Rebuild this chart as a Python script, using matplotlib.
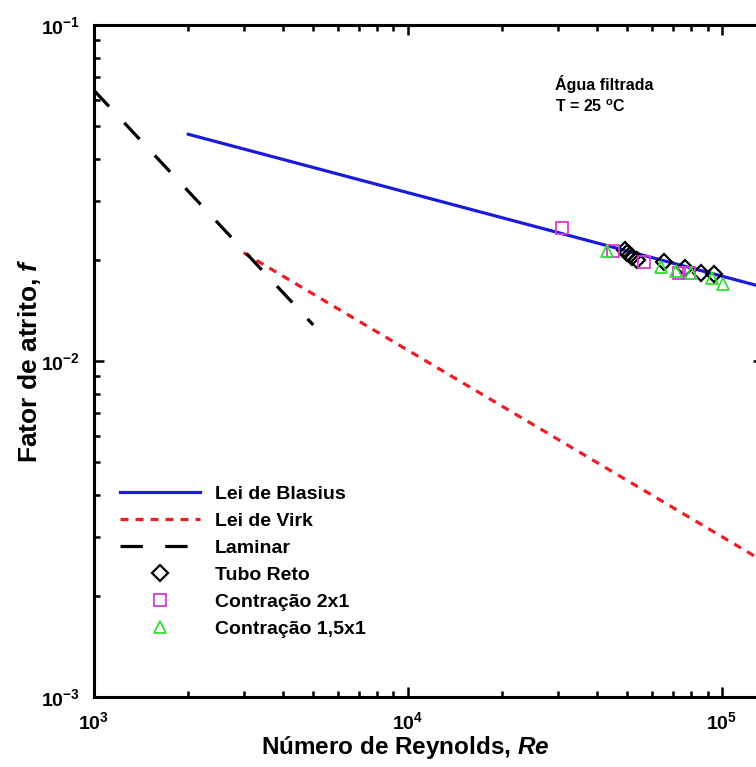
import matplotlib
matplotlib.use('Agg')
import matplotlib.pyplot as plt
from matplotlib.ticker import LogLocator, NullFormatter
import numpy as np

plt.rcParams['font.family'] = 'Liberation Sans'
plt.rcParams['font.weight'] = 'bold'
plt.rcParams['mathtext.fontset'] = 'custom'
plt.rcParams['mathtext.rm'] = 'Liberation Sans:bold'
plt.rcParams['mathtext.it'] = 'Liberation Sans:bold:italic'
plt.rcParams['mathtext.bf'] = 'Liberation Sans:bold'

# theoretical lines (end points)
Re_blasius = [2000, 135000]
f_blasius = [0.0473, 0.0166]
Re_virk = [3000, 135000]
f_virk = [0.0210, 0.00254]
Re_laminar = [1000, 5000]
f_laminar = [0.064, 0.0128]

# experimental points
Re_tubo = [49100, 50000, 50900, 51800, 53600, 65300, 76200, 85700, 94300]
f_tubo = [0.0214, 0.0210, 0.0207, 0.0204, 0.0200, 0.0197, 0.0189, 0.0183, 0.0181]
Re_c2 = [30900, 45000, 56400, 73000, 78500]
f_c2 = [0.0249, 0.0212, 0.0197, 0.0183, 0.0183]
Re_c15 = [43000, 63900, 71600, 79500, 92800, 100600]
f_c15 = [0.0212, 0.0191, 0.0185, 0.0183, 0.0177, 0.0169]

fig = plt.figure(figsize=(7.56, 7.67), dpi=100)
ax = fig.add_axes([0.124, 0.0913, 0.885, 0.8761])

ax.plot(Re_blasius, f_blasius, color='#1a1adc', lw=2.3, label='Lei de Blasius')
ax.plot(Re_virk, f_virk, color='#ee1c24', lw=2.3, dashes=(2.5, 2.2), label='Lei de Virk')
ax.plot(Re_laminar, f_laminar, color='black', lw=2.3, dashes=(7, 7), label='Laminar')
ax.plot(Re_tubo, f_tubo, ls='none', marker='D', ms=8, mfc='none', mec='black', mew=1.6, label='Tubo Reto')
ax.plot(Re_c2, f_c2, ls='none', marker='s', ms=8.5, mfc='none', mec='#d63ad6', mew=1.3, label='Contração 2x1')
ax.plot(Re_c15, f_c15, ls='none', marker='^', ms=9, mfc='none', mec='#33dd33', mew=1.3, label='Contração 1,5x1')

ax.set_xscale('log')
ax.set_yscale('log')
ax.set_xlim(1e3, 1.35e5)
ax.set_ylim(1e-3, 1e-1)

ax.xaxis.set_major_locator(LogLocator(base=10))
ax.yaxis.set_major_locator(LogLocator(base=10))
ax.xaxis.set_minor_locator(LogLocator(base=10, subs=np.arange(2, 10)))
ax.yaxis.set_minor_locator(LogLocator(base=10, subs=np.arange(2, 10)))
ax.xaxis.set_minor_formatter(NullFormatter())
ax.yaxis.set_minor_formatter(NullFormatter())

ax.tick_params(which='both', direction='in', top=True, right=True, width=1.8, labelsize=14)
ax.tick_params(which='major', length=7, pad=10)
ax.tick_params(which='minor', length=4)
for s in ax.spines.values():
    s.set_linewidth(2.2)

ax.set_xlabel('Número de Reynolds, $\\mathit{Re}$', fontsize=17.5, fontweight='bold')
ax.xaxis.set_label_coords(0.465, -0.055)
ax.set_ylabel('Fator de atrito, $\\mathit{f}$', fontsize=19, fontweight='bold')
ax.yaxis.set_label_coords(-0.076, 0.5)

ax.text(0.689, 0.926, 'Água filtrada\nT = 25 $^{\\mathrm{o}}$C', transform=ax.transAxes,
        fontsize=11.5, fontweight='bold', va='top', linespacing=1.45)

leg = ax.legend(loc='upper left', bbox_to_anchor=(0.028, 0.326), borderaxespad=0, frameon=False,
                fontsize=14, handlelength=4.1, handletextpad=0.75, labelspacing=0.48)

fig.savefig('out.png', dpi=100)
